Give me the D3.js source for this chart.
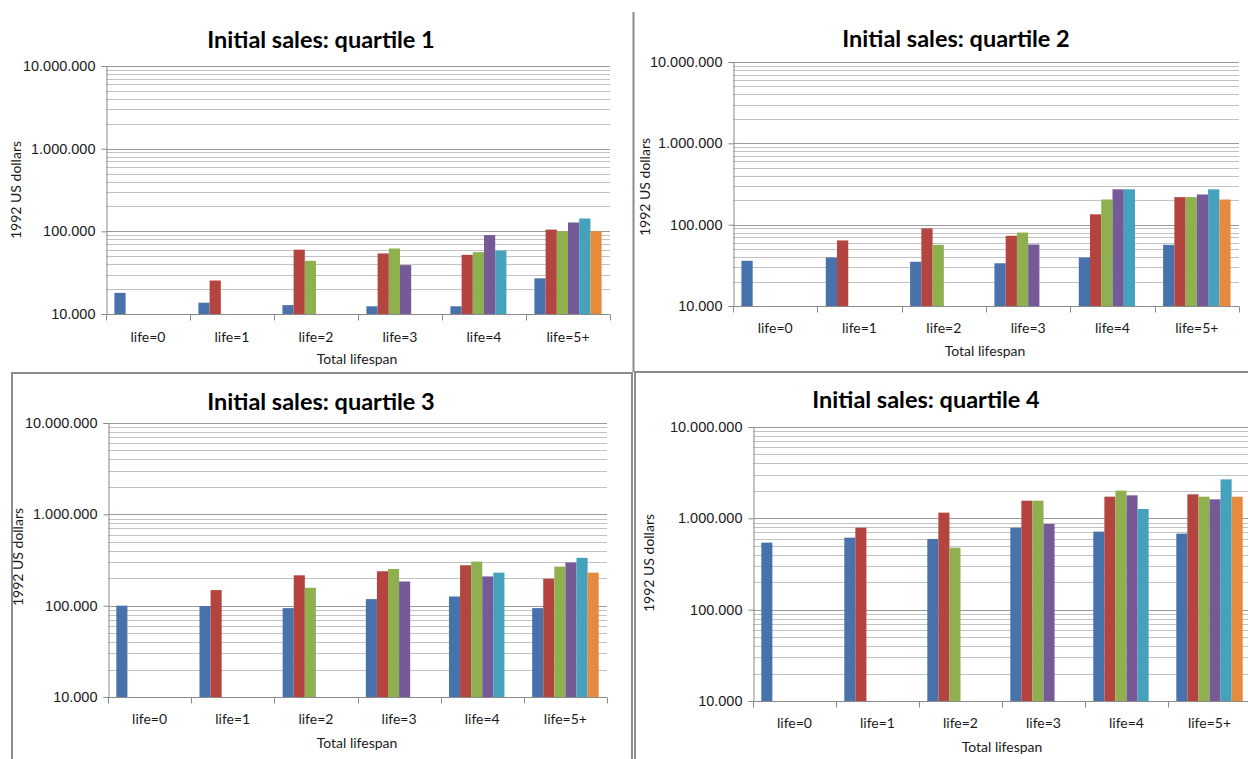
<!DOCTYPE html>
<html>
<head>
<meta charset="utf-8">
<script src="https://cdn.jsdelivr.net/npm/d3@7"></script>
<style>
  html, body { margin: 0; padding: 0; background: #fff; }
  svg { display: block; font-family: Lato, 'Open Sans', sans-serif; }
</style>
</head>
<body>
<div id="chart"></div>
<script>
const categories = ['life=0', 'life=1', 'life=2', 'life=3', 'life=4', 'life=5+']
const seriesKeys = ['s0', 's1', 's2', 's3', 's4', 's5']
const seriesColors = ['#4872AB', '#B3443F', '#8EB04F', '#765A98', '#44A2BD', '#E68A3E']
const yTickValues = [10000, 100000, 1000000, 10000000]
const titles = [
  'Initial sales: quartile 1',
  'Initial sales: quartile 2',
  'Initial sales: quartile 3',
  'Initial sales: quartile 4'
]

// one row per category, one value per series (missing series are simply absent)
const q1Values = [
  [18000],
  [13700, 25400],
  [12800, 60000, 44000],
  [12400, 54000, 62000, 39000],
  [12400, 52000, 56000, 90000, 58500],
  [27000, 105000, 100000, 128000, 143000, 100000]
]
const q2Values = [
  [36000],
  [39500, 64000],
  [35000, 90000, 56500],
  [33500, 73000, 80000, 57000],
  [39500, 134000, 204000, 272000, 272000],
  [56500, 218000, 218000, 235000, 272000, 204000]
]
const q3Values = [
  [100000],
  [99000, 148000],
  [94000, 215000, 157000],
  [118000, 238000, 252000, 184000],
  [126000, 277000, 304000, 209000, 230000],
  [94000, 197000, 268000, 297000, 334000, 230000]
]
const q4Values = [
  [542000],
  [614000, 790000],
  [594000, 1154000, 477000],
  [790000, 1560000, 1560000, 867000],
  [715000, 1727000, 2010000, 1786000, 1265000],
  [680000, 1832000, 1727000, 1614000, 2672000, 1727000]
]

const W = 1248
const H = 759
const colors = {
  text: '#1a1a1a',
  axis: '#8a8a8a',
  gridMajor: '#9a9a9a',
  gridMinor: '#c2c2c2',
  frame: '#8c8c8c'
}

// plot rectangles and label anchors for each panel
const layout = [
  { left: 106, right: 610, top: 66, bottom: 314, titleX: 321, titleY: 48, yTitleX: 21, yTitleY: 190, xLabelY: 341, xTitleX: 357, xTitleY: 364 },
  { left: 733, right: 1239, top: 62, bottom: 306, titleX: 956, titleY: 47, yTitleX: 650, yTitleY: 187, xLabelY: 332, xTitleX: 985, xTitleY: 356 },
  { left: 108, right: 607, top: 423, bottom: 697, titleX: 321, titleY: 410, yTitleX: 23, yTitleY: 557, xLabelY: 723, xTitleX: 357, xTitleY: 748 },
  { left: 753, right: 1251, top: 427, bottom: 701, titleX: 926, titleY: 408, yTitleX: 654, yTitleY: 563, xLabelY: 727, xTitleX: 1002, xTitleY: 752 }
]

const fmt = d3.formatLocale({ decimal: ',', thousands: '.', grouping: [3], currency: ['', ''] }).format(',')

const svg = d3.select('#chart').append('svg').attr('width', W).attr('height', H)
svg.append('rect').attr('width', W).attr('height', H).attr('fill', '#fff')

// panel frames
const frames = svg.append('g').attr('fill', 'none').attr('stroke', colors.frame).attr('stroke-width', 2)
frames.append('line').attr('x1', 633.5).attr('x2', 633.5).attr('y1', 12).attr('y2', 372)
frames.append('path').attr('d', 'M12,770 V373 H632 V770')
frames.append('path').attr('d', 'M635,770 V372 H1260')

const drawPanel = (cfg, values, title) => {
  const g = svg.append('g')

  const x0 = d3.scaleBand().domain(categories).range([cfg.left, cfg.right]).padding(0)
  const x1 = d3.scaleBand().domain(seriesKeys).range([0, x0.bandwidth()]).paddingInner(0).paddingOuter(0.75)
  const y = d3.scaleLog().domain([10000, 10000000]).range([cfg.bottom, cfg.top])

  // gridlines
  const grid = g.append('g').attr('shape-rendering', 'crispEdges')
  grid.selectAll('line')
    .data(y.ticks())
    .enter()
    .append('line')
    .attr('x1', cfg.left)
    .attr('x2', cfg.right)
    .attr('y1', (d) => Math.round(y(d)) + 0.5)
    .attr('y2', (d) => Math.round(y(d)) + 0.5)
    .attr('stroke', (d) => (yTickValues.includes(d) ? colors.gridMajor : colors.gridMinor))
    .attr('stroke-width', 1)

  // bars
  const groups = g.append('g')
    .selectAll('.cat')
    .data(values)
    .enter()
    .append('g')
    .attr('transform', (d, i) => `translate(${x0(categories[i])},0)`)

  groups.selectAll('rect')
    .data((row) => row.map((v, j) => ({ v, key: seriesKeys[j], color: seriesColors[j] })))
    .enter()
    .append('rect')
    .attr('x', (d) => x1(d.key))
    .attr('width', x1.bandwidth())
    .attr('y', (d) => y(d.v))
    .attr('height', (d) => y(10000) - y(d.v))
    .attr('fill', (d) => d.color)

  // y axis
  g.append('g')
    .attr('transform', `translate(${cfg.left + 0.5},0)`)
    .call(d3.axisLeft(y).tickValues(yTickValues).tickFormat(fmt).tickSizeOuter(0).tickSize(5).tickPadding(6))
    .call((a) => {
      a.select('.domain').attr('stroke', colors.axis)
      a.selectAll('.tick line').attr('stroke', colors.axis)
      a.selectAll('.tick text').style('font-size', '14.5px').style('fill', colors.text)
    })

  // x axis with ticks on category boundaries
  const xAxis = g.append('g').attr('transform', `translate(0,${cfg.bottom + 0.5})`)
  xAxis.append('line')
    .attr('x1', cfg.left).attr('x2', cfg.right)
    .attr('stroke', colors.axis)
  xAxis.selectAll('.bound')
    .data(categories.concat(['end']))
    .enter()
    .append('line')
    .attr('x1', (d, i) => Math.round(cfg.left + i * x0.step()) + 0.5)
    .attr('x2', (d, i) => Math.round(cfg.left + i * x0.step()) + 0.5)
    .attr('y1', 0)
    .attr('y2', 6)
    .attr('stroke', colors.axis)
  xAxis.selectAll('text')
    .data(categories)
    .enter()
    .append('text')
    .attr('x', (d) => x0(d) + x0.bandwidth() / 2)
    .attr('y', cfg.xLabelY - cfg.bottom)
    .attr('text-anchor', 'middle')
    .style('font-size', '14px')
    .style('fill', colors.text)
    .text((d) => d)

  g.append('text')
    .attr('x', cfg.xTitleX)
    .attr('y', cfg.xTitleY)
    .attr('text-anchor', 'middle')
    .style('font-size', '14px')
    .style('fill', colors.text)
    .text('Total lifespan')

  g.append('text')
    .attr('transform', `translate(${cfg.yTitleX},${cfg.yTitleY}) rotate(-90)`)
    .attr('text-anchor', 'middle')
    .style('font-size', '14px')
    .style('fill', colors.text)
    .text('1992 US dollars')

  g.append('text')
    .attr('x', cfg.titleX)
    .attr('y', cfg.titleY)
    .attr('text-anchor', 'middle')
    .style('font-size', '23.5px')
    .style('font-weight', '700')
    .style('fill', '#000')
    .text(title)
}

const allValues = [q1Values, q2Values, q3Values, q4Values]
layout.forEach((cfg, i) => drawPanel(cfg, allValues[i], titles[i]))
</script>
</body>
</html>
